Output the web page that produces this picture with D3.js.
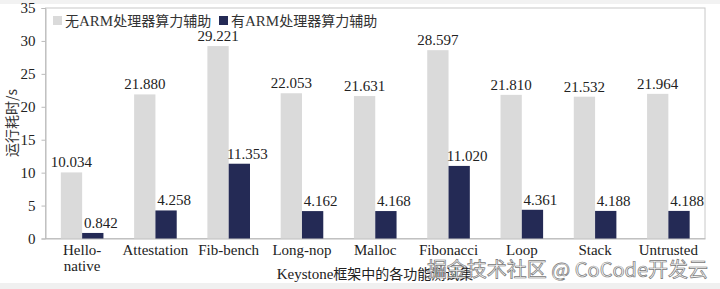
<!DOCTYPE html>
<html><head><meta charset="utf-8">
<script src="https://cdn.jsdelivr.net/npm/d3@7"></script>
<style>body{margin:0;background:#fff}svg{display:block}</style>
</head><body>
<svg id="c" width="720" height="289"></svg>
<script>
const categories = [["Hello-","native"],["Attestation"],["Fib-bench"],["Long-nop"],["Malloc"],["Fibonacci"],["Loop"],["Stack"],["Untrusted"]];
const seriesNames = ["无ARM处理器算力辅助","有ARM处理器算力辅助"];
const without = [10.034,21.880,29.221,22.053,21.631,28.597,21.810,21.532,21.964];
const withArm = [0.842,4.258,11.353,4.162,4.168,11.020,4.361,4.188,4.188];
const yTicks = [0,5,10,15,20,25,30,35];
const colors = ["#dadada","#242a55"];

const svg = d3.select("#c");
const serif = "'Liberation Serif','Times New Roman',serif";
const cjk = "'Noto Sans CJK SC',sans-serif";
svg.append("rect").attr("width",720).attr("height",289).attr("fill","#fff");
svg.append("rect").attr("width",720).attr("height",4).attr("fill","#f2f2f2");
svg.append("rect").attr("y",283).attr("width",720).attr("height",6).attr("fill","#f0f0f0");

const m = {l:45.5,r:705,t:8,b:238.5};
const x = d3.scaleBand().domain(d3.range(categories.length)).range([m.l,m.r]);
const x1 = d3.scaleBand().domain([0,1]).range([0,x.bandwidth()]).paddingOuter(0.72).paddingInner(0);
const y = d3.scaleLinear().domain([0,35]).range([m.b,m.t]);

// frame
svg.append("rect").attr("x",m.l).attr("y",m.t).attr("width",m.r-m.l).attr("height",m.b-m.t)
  .attr("fill","none").attr("stroke","#c8c8c8").attr("stroke-width",1);

const yAxis = svg.append("g").attr("transform",`translate(${m.l},0)`)
  .call(d3.axisLeft(y).tickValues(yTicks).tickSize(4).tickPadding(6));
yAxis.select(".domain").attr("stroke","#bbb");
yAxis.selectAll(".tick line").attr("stroke","#bbb");
yAxis.selectAll("text").attr("font-family",serif).attr("font-size",15).attr("fill","#222");

const xAxis = svg.append("g").attr("transform",`translate(0,${m.b})`)
  .call(d3.axisBottom(x).tickSize(0).tickFormat(""));
xAxis.select(".domain").attr("stroke","#bbb");

const groups = svg.append("g").selectAll("g").data(categories).join("g")
  .attr("transform",(d,i)=>`translate(${x(i)},0)`);
const data = [without, withArm];
data.forEach((vals,s)=>{
  groups.append("rect")
    .attr("x",x1(s)).attr("width",x1.bandwidth())
    .attr("y",(d,i)=>y(vals[i])).attr("height",(d,i)=>y(0)-y(vals[i]))
    .attr("fill",colors[s]);
  groups.append("text")
    .attr("x",x1(s)+x1.bandwidth()/2+(s===1?8:0))
    .attr("y",(d,i)=>y(vals[i])-5)
    .attr("text-anchor","middle").attr("font-family",serif).attr("font-size",15).attr("fill","#222")
    .text((d,i)=>vals[i].toFixed(3));
});

// category labels
groups.each(function(d){
  const t = d3.select(this).append("text").attr("text-anchor","middle")
    .attr("font-family",serif).attr("font-size",15).attr("fill","#222");
  d.forEach((line,k)=>t.append("tspan").attr("x",x.bandwidth()/2).attr("y",255+k*16).text(line));
});

// axis titles
svg.append("text").attr("transform","translate(17,123) rotate(-90)").attr("text-anchor","middle")
  .attr("font-family",cjk).attr("font-size",14).attr("fill","#333").text("运行耗时/s");
svg.append("text").attr("x",375).attr("y",279).attr("text-anchor","middle")
  .attr("font-family",serif).attr("font-size",15).attr("fill","#222")
  .text("Keystone").append("tspan").attr("font-family",cjk).attr("font-size",14).text("框架中的各功能测试集");

// legend
const leg = [[53,seriesNames[0]],[219,seriesNames[1]]];
leg.forEach(([lx,name],s)=>{
  svg.append("rect").attr("x",lx).attr("y",16).attr("width",9).attr("height",9).attr("fill",colors[s]);
  svg.append("text").attr("x",lx+12).attr("y",26).attr("font-family",serif).attr("font-size",15).attr("fill","#333")
    .text("").call(t=>{
      const parts = name.match(/[A-Za-z]+|[^A-Za-z]+/g);
      parts.forEach(p=>t.append("tspan").attr("font-family",/[A-Za-z]/.test(p)?serif:cjk).attr("font-size",/[A-Za-z]/.test(p)?15:14).text(p));
    });
});

// watermark
svg.append("text").attr("x",708).attr("y",277).attr("text-anchor","end")
  .attr("font-family",cjk).attr("font-size",20).attr("fill","#f8f8f8").attr("stroke","#777").attr("stroke-width",0.7)
  .text("掘金技术社区 @ CoCode开发云");
</script>
</body></html>
